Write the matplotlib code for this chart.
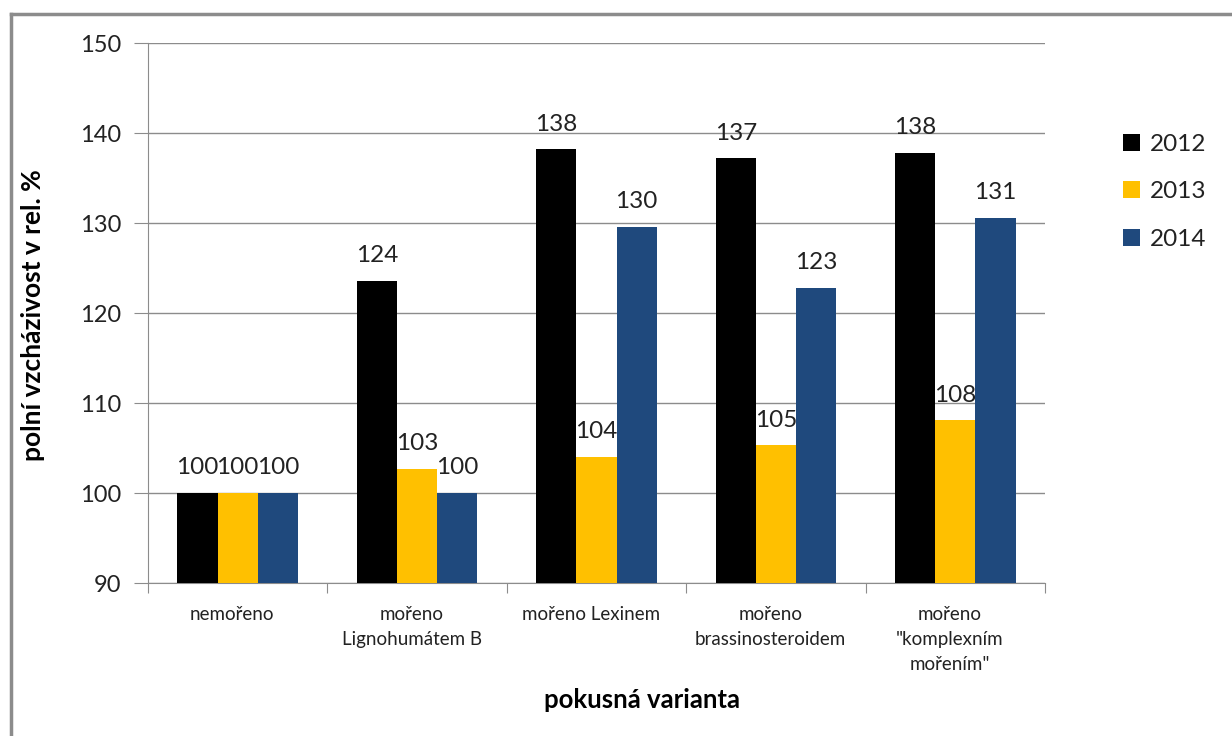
import numpy as np
import matplotlib.pyplot as plt
from matplotlib.lines import Line2D

plt.rcParams['font.family'] = ['Lato', 'DejaVu Sans']

# polní vzcházivost (rel. %) podle varianty moření
varianty = ['nemořeno', 'mořeno\nLignohumátem B', 'mořeno Lexinem',
            'mořeno\nbrassinosteroidem', 'mořeno\n"komplexním\nmořením"']
roky = ['2012', '2013', '2014']
v2012 = [100.0, 123.6, 138.2, 137.2, 137.8]
v2013 = [100.0, 102.7, 104.0, 105.3, 108.1]
v2014 = [100.0, 100.0, 129.6, 122.8, 130.6]
barvy = ['#000000', '#ffc000', '#1f497d']

fig = plt.figure(figsize=(12.32, 7.36), dpi=100)
ax = fig.add_axes([148/1232, 1 - 583/736, (1045-148)/1232, (583-43)/736])

x = np.arange(len(varianty))
w = 0.224
for i, (vals, rok, c) in enumerate(zip([v2012, v2013, v2014], roky, barvy)):
    pos = x + (i - 1) * w
    ax.bar(pos, np.array(vals) - 90, bottom=90, width=w, color=c,
           label=rok, zorder=3)
    for p, v in zip(pos, vals):
        ax.annotate('%.0f' % v, (p, v), xytext=(0, 10.5), textcoords='offset points',
                    ha='center', va='bottom', fontsize=17.5, color='#222222')

ax.set_ylim(90, 150)
ax.set_xlim(-0.5, len(varianty) - 0.5)
ax.set_yticks(range(90, 151, 10))
ax.yaxis.grid(True, color='#8c8c8c', linewidth=1.0)
ax.set_axisbelow(True)
for s in ['top', 'right']:
    ax.spines[s].set_visible(False)
for s in ['left', 'bottom']:
    ax.spines[s].set_color('#8c8c8c')
ax.tick_params(axis='y', length=10, color='#8c8c8c', labelsize=17, pad=9,
               labelcolor='#222222')

# popisky kategorií a značky na hranicích skupin
ax.set_xticks(np.arange(len(varianty) + 1) - 0.5)
ax.set_xticklabels([])
ax.tick_params(axis='x', length=7, color='#8c8c8c')
for xi, lab in zip(x, varianty):
    ax.text(xi - 0.03, 87.5, lab, ha='center', va='top', fontsize=13.5,
            color='#222222', linespacing=1.6)

fig.text(33/1232, 1 - 315/736, 'polní vzcházivost v rel. %', rotation=90,
         ha='center', va='center', fontsize=19, fontweight='bold')
fig.text(642/1232, 1 - 700/736, 'pokusná varianta', ha='center',
         va='center', fontsize=18.5, fontweight='bold')

ax.legend(loc='upper left', bbox_to_anchor=(1.063, 0.872), frameon=False,
          fontsize=17.5, handlelength=0.7, handleheight=0.7, handletextpad=0.4,
          labelspacing=1.08, labelcolor='#222222')

# rámeček grafu
fig.add_artist(Line2D([11/1232, 1], [1 - 14/736, 1 - 14/736], color='#8c8c8c', lw=2.5))
fig.add_artist(Line2D([11/1232, 11/1232], [0, 1 - 14/736], color='#8c8c8c', lw=2.5))

fig.savefig('out.png', dpi=100, facecolor='white')
